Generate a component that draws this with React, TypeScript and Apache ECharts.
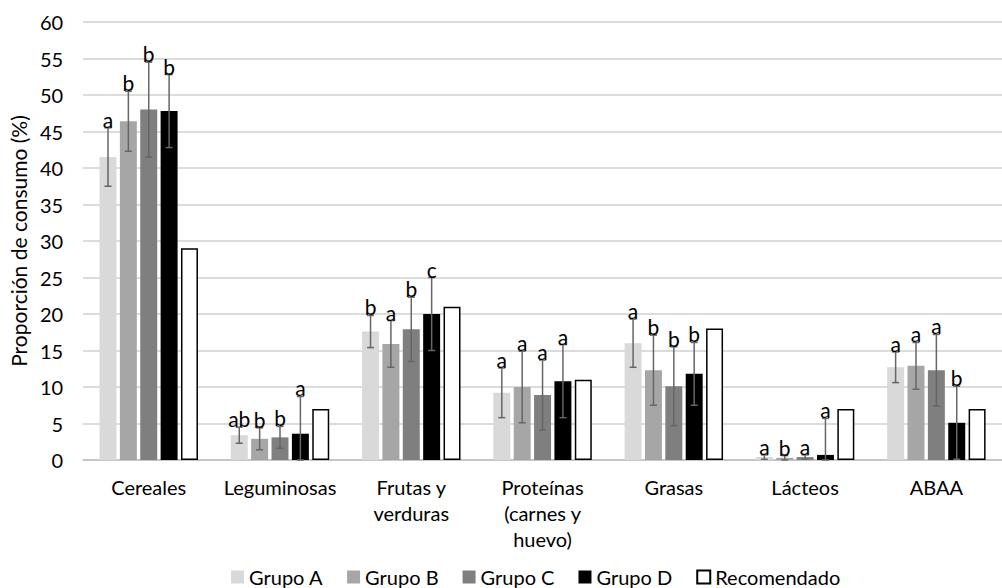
import React, { useEffect, useRef } from "react";
import * as echarts from "echarts";

const categories = [
  "Cereales",
  "Leguminosas",
  "Frutas y\nverduras",
  "Proteínas\n(carnes y\nhuevo)",
  "Grasas",
  "Lácteos",
  "ABAA",
];
const seriesNames = ["Grupo A", "Grupo B", "Grupo C", "Grupo D", "Recomendado"];
const grupoA = [41.5, 3.4, 17.6, 9.2, 16.0, 0.4, 12.7];
const grupoB = [46.4, 2.9, 15.9, 10.0, 12.3, 0.3, 12.9];
const grupoC = [48.0, 3.1, 17.9, 8.9, 10.1, 0.4, 12.3];
const grupoD = [47.8, 3.6, 20.0, 10.8, 11.8, 0.7, 5.1];
const recomendado = [29, 7, 21, 11, 18, 7, 7];
const errA = [4.0, 1.1, 2.2, 3.4, 3.3, 0.3, 2.1];
const errB = [4.1, 1.5, 3.2, 4.9, 4.8, 0.3, 3.2];
const errC = [6.5, 1.5, 4.4, 4.8, 5.4, 0.3, 4.9];
const errD = [5.0, 5.1, 5.0, 5.0, 4.3, 5.0, 5.0];
const lettersA = ["a", "ab", "b", "a", "a", "a", "a"];
const lettersB = ["b", "b", "a", "a", "b", "b", "a"];
const lettersC = ["b", "b", "b", "a", "b", "a", "a"];
const lettersD = ["b", "a", "c", "a", "b", "a", "b"];

const FONT = "Lato";

export default function App() {
  const ref = useRef<HTMLDivElement>(null);
  useEffect(() => {
    const chart = echarts.init(ref.current!, null, { renderer: "svg" });
    const groups = [grupoA, grupoB, grupoC, grupoD];
    const errs = [errA, errB, errC, errD];
    const letters = [lettersA, lettersB, lettersC, lettersD];
    const colors = ["#d9d9d9", "#a6a6a6", "#7f7f7f", "#000000", "#ffffff"];
    const CAT_GAP = 0.25;
    const BAR_GAP = 0.2;
    const NB = 5;
    const errData: number[][] = [];
    groups.forEach((g, gi) =>
      g.forEach((v, ci) => errData.push([ci, v, errs[gi][ci], gi]))
    );
    const allValues = [grupoA, grupoB, grupoC, grupoD, recomendado];

    const bars = allValues.map((vals, i) => ({
      name: seriesNames[i],
      type: "bar",
      data: vals,
      barGap: "20%",
      barCategoryGap: "25%",
      itemStyle:
        i === 4
          ? { color: "#ffffff", borderColor: "#000000", borderWidth: 1.5 }
          : { color: colors[i] },
    }));

    chart.setOption({
      animation: false,
      textStyle: { fontFamily: FONT },
      grid: { left: 80, right: 0, top: 22, bottom: 128 },
      legend: {
        data: seriesNames,
        left: 231,
        top: 567,
        padding: 0,
        icon: "rect",
        itemWidth: 13,
        itemHeight: 13,
        itemGap: 24,
        textStyle: { fontSize: 20, lineHeight: 20, color: "#000", fontFamily: FONT },
      },
      xAxis: {
        type: "category",
        data: categories,
        axisTick: { show: false },
        axisLine: { lineStyle: { color: "#bfbfbf", width: 1.5 } },
        axisLabel: {
          fontSize: 20,
          color: "#000",
          lineHeight: 26,
          margin: 14,
          interval: 0,
          fontFamily: FONT,
        },
      },
      yAxis: {
        type: "value",
        min: 0,
        max: 60,
        interval: 5,
        name: "Proporción de consumo (%)",
        nameLocation: "middle",
        nameGap: 50,
        nameTextStyle: { fontSize: 21, color: "#000", fontFamily: FONT },
        axisLabel: { fontSize: 20, color: "#000", margin: 20, fontFamily: FONT },
        axisLine: { show: false },
        axisTick: { show: false },
        splitLine: { lineStyle: { color: "#d0d0d0", width: 1.5 } },
      },
      series: [
        ...bars,
        {
          type: "custom",
          name: "errores",
          z: 10,
          data: errData,
          encode: { x: 0, y: 1 },
          renderItem: (params: any, api: any) => {
            const row = errData[params.dataIndex];
            const ci = row[0];
            const v = row[1];
            const e = row[2];
            const gi = row[3];
            const letter = letters[gi][ci];
            const band = api.size([1, 0])[0];
            const usable = band * (1 - CAT_GAP);
            const w = usable / (NB + (NB - 1) * BAR_GAP);
            const center = api.coord([ci, 0])[0];
            const x = center - usable / 2 + gi * w * (1 + BAR_GAP) + w / 2;
            const yTop = api.coord([ci, v + e])[1];
            const yBot = api.coord([ci, Math.max(0, v - e)])[1];
            const cap = 3.5;
            const ls = { stroke: "#666666", lineWidth: 1.5 };
            return {
              type: "group",
              children: [
                { type: "line", shape: { x1: x, y1: yTop, x2: x, y2: yBot }, style: ls },
                { type: "line", shape: { x1: x - cap, y1: yTop, x2: x + cap, y2: yTop }, style: ls },
                { type: "line", shape: { x1: x - cap, y1: yBot, x2: x + cap, y2: yBot }, style: ls },
                {
                  type: "text",
                  x: x,
                  y: yTop + 2,
                  style: {
                    text: letter,
                    fontSize: 21,
                    fontFamily: FONT,
                    fill: "#000",
                    align: "center",
                    verticalAlign: "bottom",
                  },
                },
              ],
            };
          },
        },
      ],
    });
    return () => chart.dispose();
  }, []);
  return (
    <div
      ref={ref}
      style={{ position: "fixed", left: 0, top: 0, width: 1002, height: 588, background: "#fff" }}
    />
  );
}
